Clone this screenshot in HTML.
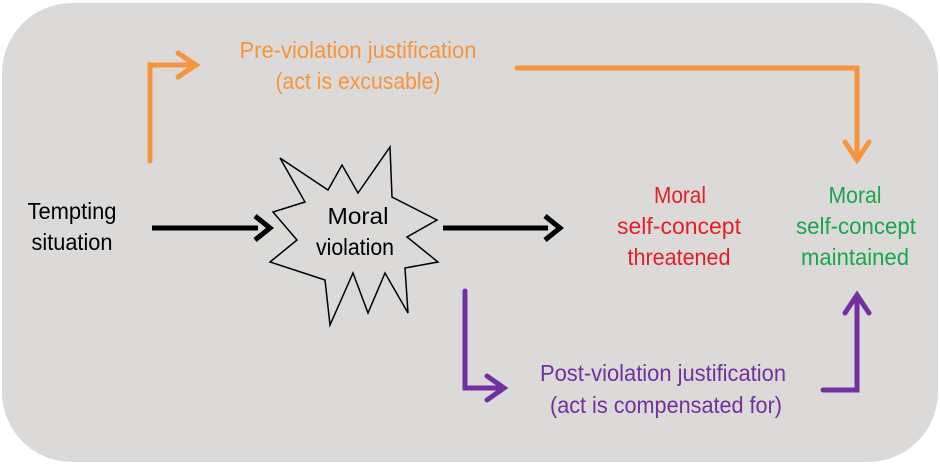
<!DOCTYPE html>
<html><head><meta charset="utf-8"><style>
body{margin:0;background:#fff;}
svg{display:block;}
text{font-family:"Liberation Sans",sans-serif;font-size:23px;text-anchor:middle;}
</style></head><body>
<svg width="940" height="468" viewBox="0 0 940 468">
<rect x="2" y="3" width="936" height="459" rx="70" fill="#dcdad8"/>
<g fill="none" stroke-width="5" stroke-linecap="round" stroke-linejoin="miter">
<polyline points="150,161 150,65 194,65" stroke="#f7953f"/>
<polyline points="178,53 196,65 178,77" stroke="#f7953f"/>
<polyline points="517,68 857,68 857,158" stroke="#f7953f"/>
<polyline points="845,142 857,160 869,142" stroke="#f7953f"/>
<polyline points="465,291 465,388 502,388" stroke="#7030a0"/>
<polyline points="487,376 504,388 487,400" stroke="#7030a0"/>
<polyline points="823,390 857,390 857,297" stroke="#7030a0"/>
<polyline points="845,313 857,295 869,313" stroke="#7030a0"/>
</g>
<g stroke="#000" stroke-width="5">
<line x1="152" y1="228" x2="258" y2="228"/>
<line x1="443" y1="228" x2="548" y2="228"/>
</g>
<polyline points="255,216 270,228 255,240" fill="none" stroke="#000" stroke-width="5"/>
<polyline points="545,216 560,228 545,240" fill="none" stroke="#000" stroke-width="5"/>
<polygon points="280,158 328,190 342,165 358,193 390,147 392,197 437,220 407,237 438,262 405,268 408,313 385,273 368,313 353,273 330,325 325,280 270,262 297,240 273,212 305,202" fill="#dcdad8" stroke="#000" stroke-width="1.5"/>
<text x="358" y="224" textLength="61" lengthAdjust="spacingAndGlyphs">Moral</text>
<text x="355" y="255" textLength="78" lengthAdjust="spacingAndGlyphs">violation</text>
<text x="72" y="219" textLength="89" lengthAdjust="spacingAndGlyphs">Tempting</text>
<text x="72" y="250" textLength="81" lengthAdjust="spacingAndGlyphs">situation</text>
<g fill="#f7953f">
<text x="358" y="58" textLength="237" lengthAdjust="spacingAndGlyphs">Pre-violation justification</text>
<text x="358" y="89" textLength="165" lengthAdjust="spacingAndGlyphs">(act is excusable)</text>
</g>
<g fill="#e41e26">
<text x="680" y="203" textLength="52" lengthAdjust="spacingAndGlyphs">Moral</text>
<text x="679" y="234" textLength="124" lengthAdjust="spacingAndGlyphs">self-concept</text>
<text x="679" y="265" textLength="103" lengthAdjust="spacingAndGlyphs">threatened</text>
</g>
<g fill="#1aa64a">
<text x="855" y="203" textLength="53" lengthAdjust="spacingAndGlyphs">Moral</text>
<text x="856" y="234" textLength="120" lengthAdjust="spacingAndGlyphs">self-concept</text>
<text x="855" y="265" textLength="108" lengthAdjust="spacingAndGlyphs">maintained</text>
</g>
<g fill="#7030a0">
<text x="663" y="381" textLength="246" lengthAdjust="spacingAndGlyphs">Post-violation justification</text>
<text x="666" y="413" textLength="232" lengthAdjust="spacingAndGlyphs">(act is compensated for)</text>
</g>
</svg>
</body></html>
